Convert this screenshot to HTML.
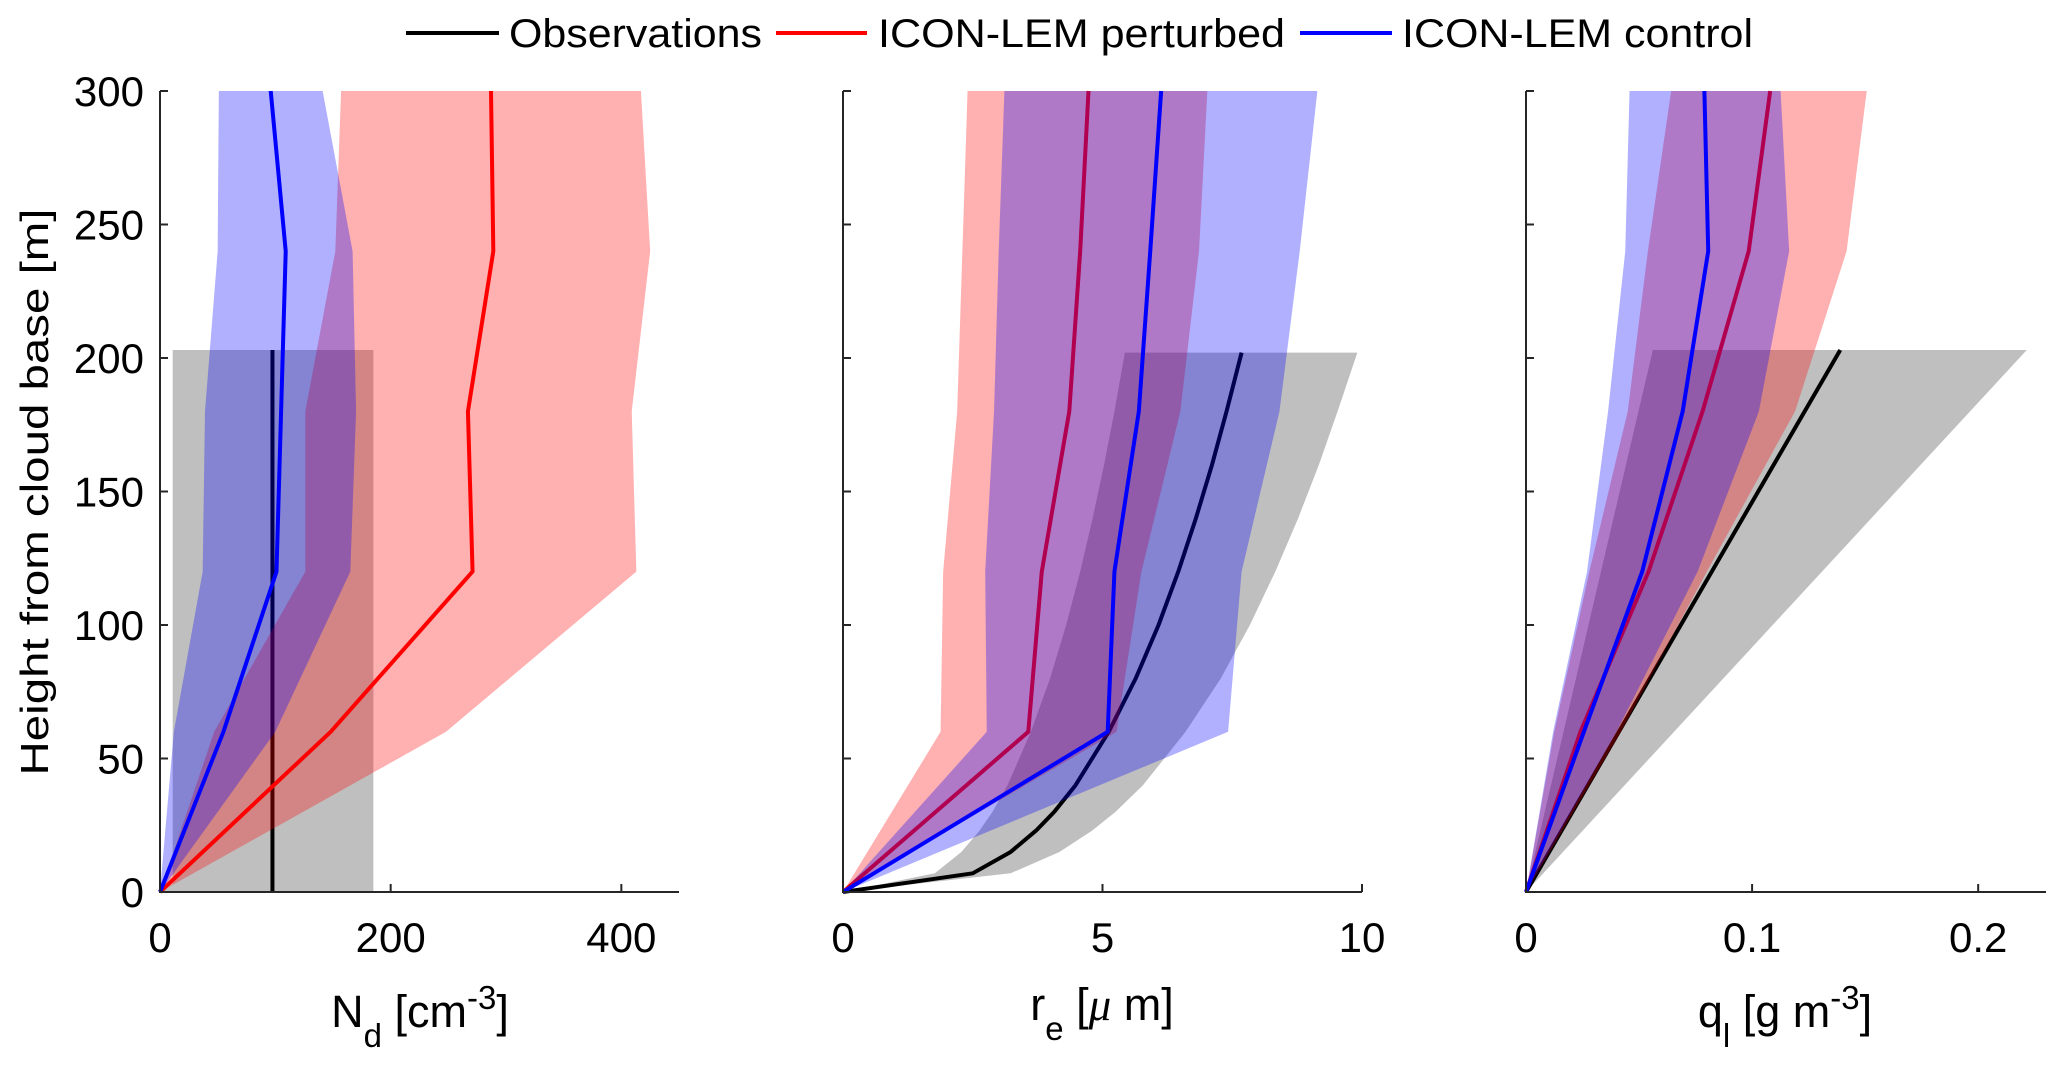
<!DOCTYPE html>
<html><head><meta charset="utf-8"><style>
body{margin:0;background:#fff}
svg{display:block;font-family:"Liberation Sans",Arial,sans-serif}
</style></head><body>
<svg id="chart" width="2067" height="1072" viewBox="0 0 2067 1072" xmlns="http://www.w3.org/2000/svg">
<g>
 <line x1="406" y1="33" x2="499" y2="33" stroke="#000" stroke-width="4"/>
 <text x="509" y="47" font-size="40" textLength="253" lengthAdjust="spacingAndGlyphs">Observations</text>
 <line x1="776" y1="33" x2="867" y2="33" stroke="#f00" stroke-width="4"/>
 <text x="878" y="47" font-size="40" textLength="407" lengthAdjust="spacingAndGlyphs">ICON-LEM perturbed</text>
 <line x1="1300" y1="33" x2="1392" y2="33" stroke="#00f" stroke-width="4"/>
 <text x="1402" y="47" font-size="40" textLength="351" lengthAdjust="spacingAndGlyphs">ICON-LEM control</text>
</g>
<text transform="translate(48,492) rotate(-90)" text-anchor="middle" font-size="39" textLength="567" lengthAdjust="spacingAndGlyphs">Height from cloud base [m]</text>
<text x="420" y="1027" text-anchor="middle" font-size="45">N<tspan font-size="33" dy="20">d</tspan><tspan dy="-20"> [cm</tspan><tspan font-size="33" dy="-18">-3</tspan><tspan dy="18">]</tspan></text>
<text x="1102" y="1020" text-anchor="middle" font-size="45">r<tspan font-size="33" dy="20">e</tspan><tspan dy="-20"> [</tspan><tspan font-family="Liberation Serif,serif" font-style="italic">μ</tspan> m]</text>
<text x="1785" y="1027" text-anchor="middle" font-size="45">q<tspan font-size="33" dy="20">l</tspan><tspan dy="-20"> [g m</tspan><tspan font-size="33" dy="-18">-3</tspan><tspan dy="18">]</tspan></text>
</svg>
<script>
// heights (m)
const hModel = [0, 60, 120, 180, 240, 300];
const yTicks = [0, 50, 100, 150, 200, 250, 300];
// Panel 1: Nd
const ndCtrl = [0, 55, 101, 105, 109, 96];
const ndCtrlLo = [0, 12, 37, 39, 50, 51];
const ndCtrlHi = [0, 100, 165, 170, 167, 141];
const ndPert = [0, 148, 271, 267, 289, 287];
const ndPertLo = [0, 47, 126, 126, 152, 157];
const ndPertHi = [0, 248, 413, 409, 425, 417];
const ndObsH = [0, 203];
const ndObs = [97.5, 97.5];
const ndObsLo = [11, 11];
const ndObsHi = [185, 185];
const ndTicks = [0, 200, 400];
// Panel 2: re
const reCtrl = [0, 5.10, 5.23, 5.70, 5.92, 6.13];
const reCtrlLo = [0, 2.77, 2.74, 2.91, 3.0, 3.11];
const reCtrlHi = [0, 7.42, 7.68, 8.41, 8.8, 9.14];
const rePert = [0, 3.57, 3.83, 4.36, 4.57, 4.73];
const rePertLo = [0, 1.88, 1.93, 2.2, 2.3, 2.40];
const rePertHi = [0, 5.27, 5.75, 6.5, 6.86, 7.02];
const reObsH = [0, 7, 15, 23, 30, 40, 60, 80, 100, 120, 140, 160, 180, 202];
const reObs = [0, 2.50, 3.23, 3.72, 4.07, 4.48, 5.12, 5.64, 6.08, 6.46, 6.80, 7.11, 7.39, 7.68];
const reObsLo = [0, 1.77, 2.28, 2.63, 2.88, 3.17, 3.62, 3.99, 4.30, 4.57, 4.81, 5.03, 5.23, 5.43];
const reObsHi = [0, 3.23, 4.17, 4.80, 5.25, 5.78, 6.60, 7.28, 7.84, 8.33, 8.77, 9.17, 9.53, 9.91];
const reTicks = [0, 5, 10];
// Panel 3: ql
const qlCtrl = [0, 0.0256, 0.0514, 0.0693, 0.0806, 0.0789];
const qlCtrlLo = [0, 0.012, 0.027, 0.0363, 0.0439, 0.0458];
const qlCtrlHi = [0, 0.040, 0.0759, 0.103, 0.1164, 0.1126];
const qlPert = [0, 0.0241, 0.0542, 0.0781, 0.0985, 0.108];
const qlPertLo = [0, 0.0125, 0.028, 0.045, 0.0539, 0.0642];
const qlPertHi = [0, 0.042, 0.080, 0.119, 0.1418, 0.1507];
const qlObsH = [0, 203];
const qlObs = [0, 0.139];
const qlObsLo = [0, 0.0561];
const qlObsHi = [0, 0.2215];
const qlTicks = [0, 0.1, 0.2];

const NS = 'http://www.w3.org/2000/svg';
const svg = document.getElementById('chart');
const Y0 = 892, YTOP = 91;
function yS(h){ return Y0 - h * (Y0 - YTOP) / 300; }
function mk(tag, attrs, parent){ const e = document.createElementNS(NS, tag); for (const k in attrs) e.setAttribute(k, attrs[k]); (parent||svg).appendChild(e); return e; }

const panels = [
 {key:'nd', x0:160, x1:679, xmax:450, ticks:ndTicks, lab:t=>String(t), ylabels:true,
  ctrl:ndCtrl, ctrlLo:ndCtrlLo, ctrlHi:ndCtrlHi, pert:ndPert, pertLo:ndPertLo, pertHi:ndPertHi,
  obsH:ndObsH, obs:ndObs, obsLo:ndObsLo, obsHi:ndObsHi},
 {key:'re', x0:843, x1:1362, xmax:10, ticks:reTicks, lab:t=>String(t), ylabels:false,
  ctrl:reCtrl, ctrlLo:reCtrlLo, ctrlHi:reCtrlHi, pert:rePert, pertLo:rePertLo, pertHi:rePertHi,
  obsH:reObsH, obs:reObs, obsLo:reObsLo, obsHi:reObsHi},
 {key:'ql', x0:1526, x1:2046, xmax:0.23, ticks:qlTicks, lab:t=>String(t), ylabels:false,
  ctrl:qlCtrl, ctrlLo:qlCtrlLo, ctrlHi:qlCtrlHi, pert:qlPert, pertLo:qlPertLo, pertHi:qlPertHi,
  obsH:qlObsH, obs:qlObs, obsLo:qlObsLo, obsHi:qlObsHi}
];

panels.forEach(p => {
 const g = mk('g', {});
 
 
 const xS = v => p.x0 + v * (p.x1 - p.x0) / p.xmax;
 const band = (lo, hi, hs) => {
  let pts = lo.map((v,i)=>xS(v)+','+yS(hs[i]));
  for (let i = hi.length-1; i >= 0; i--) pts.push(xS(hi[i])+','+yS(hs[i]));
  return pts.join(' ');
 };
 const line = (vals, hs) => vals.map((v,i)=>xS(v)+','+yS(hs[i])).join(' ');
 let obsBand;
 if (p.key === 'nd') {
  obsBand = mk('polygon', {points: [xS(0)+','+yS(0), xS(p.obsLo[0])+','+yS(3), xS(p.obsLo[1])+','+yS(p.obsH[1]), xS(p.obsHi[1])+','+yS(p.obsH[1]), xS(p.obsHi[0])+','+yS(0)].join(' '), fill:'rgba(0,0,0,0.25)'}, g);
 } else {
  obsBand = mk('polygon', {points: band(p.obsLo, p.obsHi, p.obsH), fill:'rgba(0,0,0,0.25)'}, g);
 }
 
 
 const obsLine = mk('polyline', {points: line(p.obs, p.obsH), fill:'none', stroke:'#000', 'stroke-width':4, 'stroke-linejoin':'round'}, g);
 
 
 const pb = mk('polygon', {points: band(p.pertLo, p.pertHi, hModel), fill:'rgba(255,0,0,0.31)'}, g);
 
 
 const pl = mk('polyline', {points: line(p.pert, hModel), fill:'none', stroke:'#f00', 'stroke-width':4, 'stroke-linejoin':'round'}, g);
 
 
 const cb = mk('polygon', {points: band(p.ctrlLo, p.ctrlHi, hModel), fill:'rgba(0,0,255,0.31)'}, g);
 
 
 const cl = mk('polyline', {points: line(p.ctrl, hModel), fill:'none', stroke:'#00f', 'stroke-width':4, 'stroke-linejoin':'round'}, g);
 
 
 const ax = mk('path', {d:'M'+p.x0+','+YTOP+' V'+Y0+' H'+p.x1, fill:'none', stroke:'#262626', 'stroke-width':2}, g);
 
 
 yTicks.forEach(t => {
  const tk = mk('line', {x1:p.x0, x2:p.x0+8, y1:yS(t), y2:yS(t), stroke:'#262626', 'stroke-width':2}, g);
  
  
  if (p.ylabels) {
   const tl = mk('text', {x:144, y:yS(t)+15, 'text-anchor':'end', 'font-size':42}, g);
   tl.textContent = t;
   
   
  }
 });
 p.ticks.forEach(t => {
  const tk = mk('line', {x1:xS(t), x2:xS(t), y1:Y0, y2:Y0-8, stroke:'#262626', 'stroke-width':2}, g);
  
  
  const tl = mk('text', {x:xS(t), y:952, 'text-anchor':'middle', 'font-size':42}, g);
  tl.textContent = p.lab(t);
  
  
 });
});
</script>
</body></html>
